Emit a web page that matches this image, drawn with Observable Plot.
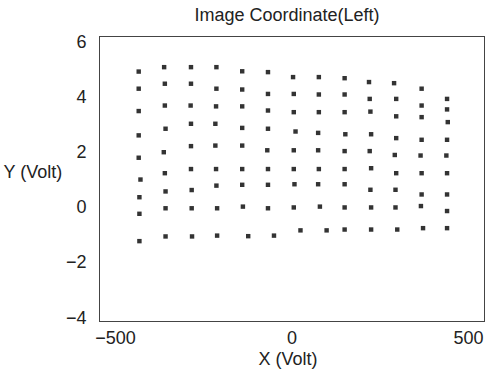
<!DOCTYPE html>
<html>
<head>
<meta charset="utf-8">
<script src="https://cdn.jsdelivr.net/npm/d3@7"></script>
<script src="https://cdn.jsdelivr.net/npm/@observablehq/plot@0.6"></script>
<style>
  html, body { margin: 0; padding: 0; background: #fff; }
</style>
</head>
<body>
<div id="chart"></div>
<script>
const title = "Image Coordinate(Left)";
const xLabel = "X (Volt)";
const yLabel = "Y (Volt)";
const xTicks = [-500, 0, 500];
const yTicks = [-4, -2, 0, 2, 4, 6];

// Grid points, one row per array (left to right)
const rowX = [
  [-434, -362, -286, -214, -141, -68, 3, 76, 149, 218, 289, 367, 439],
  [-434, -360, -286, -214, -141, -68, 5, 76, 149, 220, 295, 367, 439],
  [-434, -360, -287, -215, -141, -68, 5, 76, 149, 222, 295, 367, 441],
  [-434, -358, -286, -217, -141, -68, 10, 74, 151, 224, 295, 367, 439],
  [-434, -363, -286, -217, -141, -70, 5, 74, 149, 220, 291, 364, 437],
  [-429, -360, -286, -215, -141, -68, 5, 76, 149, 224, 295, 367, 439],
  [-432, -358, -284, -214, -141, -68, 7, 74, 149, 222, 293, 367, 439],
  [-432, -358, -284, -212, -139, -68, 5, 79, 149, 224, 293, 365, 439],
  [-432, -358, -283, -212, -124, -51, 24, 98, 149, 224, 298, 371, 439]
];
const rowY = [
  [4.92, 5.08, 5.08, 5.08, 4.93, 4.90, 4.72, 4.72, 4.68, 4.54, 4.50, 4.30, 3.93],
  [4.30, 4.48, 4.48, 4.30, 4.27, 4.11, 4.11, 4.09, 4.09, 3.93, 3.93, 3.69, 3.55],
  [3.49, 3.69, 3.69, 3.66, 3.66, 3.51, 3.45, 3.45, 3.45, 3.47, 3.30, 3.27, 3.09],
  [2.61, 2.85, 3.03, 3.03, 2.88, 2.85, 2.75, 2.70, 2.65, 2.65, 2.51, 2.45, 2.45],
  [1.80, 2.00, 2.22, 2.24, 2.24, 2.07, 2.07, 2.07, 2.04, 2.04, 1.90, 1.88, 1.88],
  [1.01, 1.24, 1.39, 1.39, 1.39, 1.39, 1.39, 1.39, 1.39, 1.42, 1.24, 1.24, 1.24],
  [0.37, 0.58, 0.63, 0.79, 0.82, 0.82, 0.84, 0.84, 0.84, 0.64, 0.64, 0.47, 0.47],
  [-0.23, -0.03, -0.03, -0.03, 0.03, -0.03, 0.00, 0.03, 0.00, 0.00, 0.00, 0.05, -0.13],
  [-1.22, -1.05, -1.05, -1.02, -1.04, -1.02, -0.83, -0.83, -0.80, -0.80, -0.80, -0.75, -0.75]
];

const points = rowX.flatMap((xs, r) => xs.map((x, c) => ({x, y: rowY[r][c]})));

const ink = "#222";
const chart = Plot.plot({
  width: 486,
  height: 372,
  marginLeft: 99,
  marginRight: 2,
  marginTop: 36,
  marginBottom: 51,
  style: {fontSize: "18px", fontFamily: "'Liberation Sans', Arial, sans-serif", color: ink, background: "#fff"},
  x: {domain: [-545, 545]},
  y: {domain: [-4.13, 6.19]},
  marks: [
    Plot.frame({stroke: "#444", strokeWidth: 1}),
    Plot.axisX({ticks: xTicks, tickSize: 0, tickPadding: 10, label: null, fill: ink}),
    Plot.axisY({ticks: yTicks, tickSize: 0, tickPadding: 13, label: null, fill: ink}),
    Plot.dot(points, {x: "x", y: "y", symbol: "square", r: 2.5, fill: "#333", stroke: "none"}),
    Plot.text([title], {frameAnchor: "top", lineAnchor: "middle", dy: -21, dx: -5, text: d => d, fill: ink, fontSize: 18}),
    Plot.text([xLabel], {frameAnchor: "bottom", lineAnchor: "middle", dy: 38, dx: -4, text: d => d, fill: ink}),
    Plot.text([yLabel], {frameAnchor: "left", lineAnchor: "middle", dx: -96, dy: -7, textAnchor: "start", text: d => d, fill: ink})
  ]
});
document.getElementById("chart").appendChild(chart);
</script>
</body>
</html>
